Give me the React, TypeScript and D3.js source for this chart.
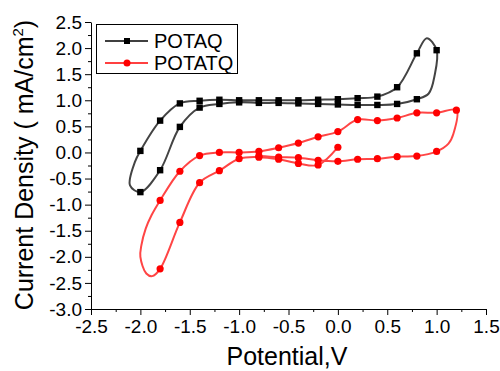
import React, { useRef, useEffect } from 'react';
import * as d3 from 'd3';

// POTAQ cycle (potential V, current density mA/cm2)
const potaqX = [-2.0, -1.8, -1.6, -1.4, -1.2, -1.0, -0.8, -0.6, -0.4, -0.2, 0.0, 0.2, 0.4, 0.6, 0.8, 0.9, 1.0, 0.98, 0.92, 0.8, 0.6, 0.4, 0.2, 0.0, -0.2, -0.4, -0.6, -0.8, -1.0, -1.2, -1.4, -1.6, -1.8, -2.0, -2.105, -2.055, -2.0];
const potaqY = [0.03, 0.61, 0.94, 0.99, 1.01, 1.0, 1.0, 1.0, 1.0, 1.01, 1.02, 1.04, 1.07, 1.25, 1.9, 2.19, 1.96, 1.48, 1.13, 1.02, 0.93, 0.91, 0.91, 0.92, 0.93, 0.94, 0.95, 0.95, 0.96, 0.93, 0.86, 0.49, -0.34, -0.76, -0.63, -0.18, 0.03];
// turning points on the line that carry no marker
const potaqUnmarked = [15, 17, 18, 34, 35, 36];

// POTATQ cycle
const potatqX = [0.0, -0.2, -0.4, -0.6, -0.8, -1.0, -1.2, -1.4, -1.6, -1.8, -1.88, -1.94, -2.0, -1.99, -1.946, -1.886, -1.8, -1.6, -1.4, -1.2, -1.0, -0.8, -0.6, -0.4, -0.2, 0.0, 0.2, 0.4, 0.6, 0.8, 1.0, 1.2, 1.17, 1.12, 1.0, 0.8, 0.6, 0.4, 0.2, 0.0, -0.2, -0.4, -0.6, -0.8];
const potatqY = [0.10, -0.24, -0.21, -0.13, -0.09, -0.12, -0.35, -0.58, -1.34, -2.23, -2.37, -2.32, -2.0, -1.78, -1.46, -1.2, -0.92, -0.36, -0.06, 0.0, 0.0, 0.02, 0.09, 0.18, 0.30, 0.40, 0.63, 0.61, 0.66, 0.76, 0.76, 0.81, 0.36, 0.17, 0.02, -0.07, -0.08, -0.12, -0.13, -0.17, -0.15, -0.10, -0.09, -0.07];
const potatqUnmarked = [10, 11, 12, 13, 14, 15, 32, 33];

const xTicks = [-2.5, -2.0, -1.5, -1.0, -0.5, 0.0, 0.5, 1.0, 1.5];
const xMinor = [-2.25, -1.75, -1.25, -0.75, -0.25, 0.25, 0.75, 1.25];
const yTicks = [-3.0, -2.5, -2.0, -1.5, -1.0, -0.5, 0.0, 0.5, 1.0, 1.5, 2.0, 2.5];
const yMinor = [-2.75, -2.25, -1.75, -1.25, -0.75, -0.25, 0.25, 0.75, 1.25, 1.75, 2.25];

const seriesNames = ['POTAQ', 'POTATQ'];

const FONT = '"Liberation Sans", Arial, sans-serif';

export default function App() {
  const svgRef = useRef<SVGSVGElement>(null);

  useEffect(() => {
    if (!svgRef.current) return;
    const svg = d3.select(svgRef.current);
    svg.selectAll('*').remove();

    const x = d3.scaleLinear().domain([-2.5, 1.5]).range([91, 486]);
    const y = d3.scaleLinear().domain([-3.0, 2.5]).range([309, 22]);
    const fmt = (d: number) => d.toFixed(1);

    // x axis
    svg
      .append('g')
      .attr('transform', 'translate(0,309)')
      .call(d3.axisBottom(x).tickValues(xMinor).tickSize(3).tickSizeOuter(0).tickFormat(() => ''))
      .call((g) => g.select('.domain').remove());
    svg
      .append('g')
      .attr('transform', 'translate(0,309)')
      .call(d3.axisBottom(x).tickValues(xTicks).tickSize(6).tickSizeOuter(0).tickPadding(5).tickFormat(fmt as any))
      .call((g) => g.selectAll('text').attr('font-size', 19).attr('font-family', FONT).attr('fill', '#000'));

    // y axis
    svg
      .append('g')
      .attr('transform', 'translate(91,0)')
      .call(d3.axisLeft(y).tickValues(yMinor).tickSize(3).tickSizeOuter(0).tickFormat(() => ''))
      .call((g) => g.select('.domain').remove());
    svg
      .append('g')
      .attr('transform', 'translate(91,0)')
      .call(d3.axisLeft(y).tickValues(yTicks).tickSize(6).tickSizeOuter(0).tickPadding(3).tickFormat(fmt as any))
      .call((g) => g.selectAll('text').attr('font-size', 19).attr('font-family', FONT).attr('fill', '#000'));

    svg.selectAll('.domain, .tick line').attr('stroke', '#000').attr('stroke-width', 1);

    // axis titles
    svg
      .append('text')
      .attr('x', 287)
      .attr('y', 365)
      .attr('text-anchor', 'middle')
      .attr('font-family', FONT)
      .attr('font-size', 25)
      .text('Potential,V');

    const yTitle = svg
      .append('text')
      .attr('transform', 'translate(33,165) rotate(-90)')
      .attr('text-anchor', 'middle')
      .attr('font-family', FONT)
      .attr('font-size', 25);
    yTitle.append('tspan').text('Current Density ( mA/cm');
    yTitle.append('tspan').attr('font-size', 15).attr('dy', -10).text('2');
    yTitle.append('tspan').attr('dy', 10).text(')');

    const line = d3
      .line<[number, number]>()
      .x((d) => x(d[0]))
      .y((d) => y(d[1]))
      .curve(d3.curveCatmullRom.alpha(0.5));

    const red = potatqX.map((v, i) => [v, potatqY[i]] as [number, number]);
    const black = potaqX.map((v, i) => [v, potaqY[i]] as [number, number]);
    const redMarks = red.filter((_, i) => !potatqUnmarked.includes(i));
    const blackMarks = black.filter((_, i) => !potaqUnmarked.includes(i));

    svg.append('path').datum(red).attr('d', line).attr('fill', 'none').attr('stroke', '#ff4545').attr('stroke-width', 2);
    svg
      .append('g')
      .selectAll('circle')
      .data(redMarks)
      .join('circle')
      .attr('cx', (d) => x(d[0]))
      .attr('cy', (d) => y(d[1]))
      .attr('r', 3.6)
      .attr('fill', '#ff0000');

    svg.append('path').datum(black).attr('d', line).attr('fill', 'none').attr('stroke', '#444').attr('stroke-width', 2);
    svg
      .append('g')
      .selectAll('rect')
      .data(blackMarks)
      .join('rect')
      .attr('x', (d) => x(d[0]) - 3.2)
      .attr('y', (d) => y(d[1]) - 3.2)
      .attr('width', 6.4)
      .attr('height', 6.4)
      .attr('fill', '#000');

    // legend
    const lg = svg.append('g');
    lg.append('rect').attr('x', 96.5).attr('y', 24.5).attr('width', 141).attr('height', 49).attr('fill', '#fff').attr('stroke', '#000');
    seriesNames.forEach((name, i) => {
      const ly = 41 + i * 22;
      const col = i === 0 ? '#000' : '#ff0000';
      lg.append('line').attr('x1', 105).attr('x2', 148).attr('y1', ly).attr('y2', ly).attr('stroke', col).attr('stroke-width', 1.5);
      if (i === 0) {
        lg.append('rect').attr('x', 124).attr('y', ly - 3).attr('width', 6).attr('height', 6).attr('fill', col);
      } else {
        lg.append('circle').attr('cx', 127).attr('cy', ly).attr('r', 3.5).attr('fill', col);
      }
      lg.append('text')
        .attr('x', 154)
        .attr('y', ly + 7)
        .attr('font-family', FONT)
        .attr('font-size', 20)
        .text(name);
    });
  }, []);

  return (
    <svg
      ref={svgRef}
      width={500}
      height={371}
      style={{ position: 'absolute', left: 0, top: 0, background: '#fff' }}
    />
  );
}
